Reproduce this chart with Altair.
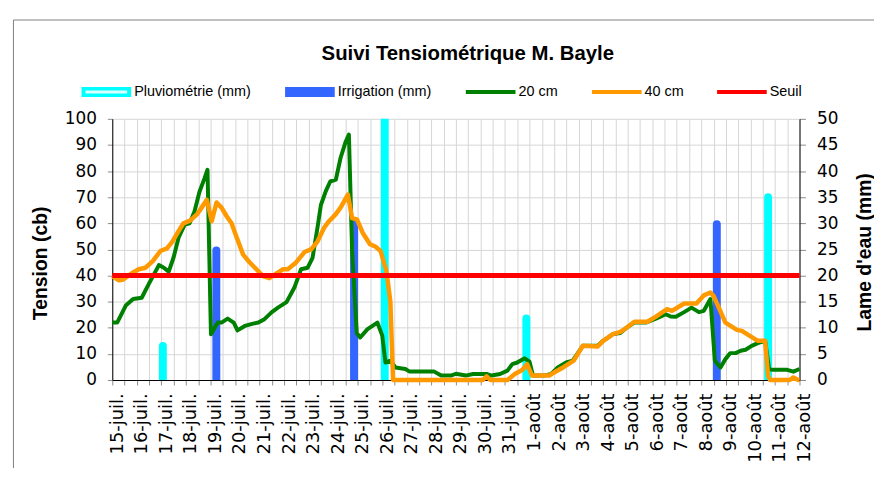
import json
import altair as alt
import pandas as pd

# ---------------- data ----------------
jours_labels = ["15-juil.", "16-juil.", "17-juil.", "18-juil.", "19-juil.", "20-juil.",
                "21-juil.", "22-juil.", "23-juil.", "24-juil.", "25-juil.", "26-juil.",
                "27-juil.", "28-juil.", "29-juil.", "30-juil.", "31-juil.",
                "1-août", "2-août", "3-août", "4-août", "5-août", "6-août", "7-août",
                "8-août", "9-août", "10-août", "11-août", "12-août"]

# 20 cm (day offset from 15-juil., tension cb)
t20_jour = [0.0, 0.2, 0.55, 0.85, 1.2, 1.5, 1.9, 2.1, 2.3, 2.5, 2.7, 2.95, 3.15, 3.35, 3.55,
            3.75, 3.88, 4.02, 4.3, 4.45, 4.7, 4.95, 5.1, 5.4, 5.7, 5.95, 6.2, 6.5, 6.75, 7.1,
            7.42, 7.69, 7.96, 8.16, 8.36, 8.5, 8.7, 8.88, 9.11, 9.3, 9.5, 9.64, 9.77, 9.96, 10.1,
            10.4, 10.8, 11.0, 11.13, 11.33, 11.54, 11.94, 12.1, 13.1, 13.4, 13.8, 14.0, 14.4, 14.7, 15.25,
            15.45, 15.8, 16.1, 16.3, 16.5, 16.8, 17.0, 17.14, 17.6, 17.88, 18.15, 18.49, 18.76, 19.17, 19.77,
            20.0, 20.4, 20.7, 20.95, 21.27, 21.74, 22.15, 22.55, 22.75, 22.96, 23.3, 23.6, 23.9, 24.1, 24.37,
            24.55, 24.78, 24.98, 25.18, 25.4, 25.6, 25.8, 26.05, 26.3, 26.6, 26.76, 26.9, 27.5, 27.75, 28.0]
t20_cb = [22, 22, 28.5, 31, 31.5, 37, 44, 43, 41.5, 47, 54.5, 59.5, 60, 64.5, 72,
          77, 80.5, 17.5, 22, 22, 23.5, 22, 19, 20.7, 21.5, 22, 23.3, 26, 27.7, 29.8,
          35.4, 42.4, 43, 46.8, 58.3, 67, 72.3, 76, 76.7, 85, 91, 94, 50, 18, 16.3,
          19.5, 22, 17, 6.7, 7.4, 4.8, 4.2, 3.3, 3.3, 1.7, 1.7, 2.4, 1.7, 2.3, 2.3,
          1.7, 2.3, 3.6, 6.1, 6.7, 8.3, 7, 1.7, 1.7, 2.3, 4.8, 6.7, 7.4, 13.1, 13.1,
          15, 17.6, 18, 20, 22, 22, 23.5, 25.2, 24.3, 24.2, 26, 27.7, 26, 26.5, 31,
          7.4, 4.8, 8, 10.3, 10.3, 11.2, 11.6, 13.1, 14.1, 15, 4.2, 3.9, 3.9, 3.2, 4.2]

# 40 cm
t40_jour = [0.0, 0.27, 0.45, 0.81, 1.08, 1.35, 1.65, 1.96, 2.23, 2.45, 2.7, 2.9, 3.17, 3.45, 3.64,
            3.85, 4.05, 4.25, 4.45, 4.66, 4.86, 5.05, 5.33, 5.6, 5.87, 6.14, 6.4, 6.68, 6.95, 7.15,
            7.49, 7.83, 8.1, 8.36, 8.63, 8.83, 9.1, 9.3, 9.6, 9.77, 9.97, 10.2, 10.5, 10.73, 10.93,
            11.17, 11.33, 11.44, 15.1, 15.25, 15.4, 16.1, 16.4, 16.7, 16.9, 17.1, 17.8, 18.0, 18.4, 18.8,
            19.17, 19.77, 20.0, 20.4, 20.7, 20.95, 21.27, 21.8, 22.15, 22.6, 22.8, 23.3, 23.8, 24.1, 24.37,
            24.5, 24.98, 25.45, 25.65, 26.3, 26.6, 26.72, 26.8, 27.6, 27.75, 27.95, 28.0]
t40_cb = [39.8, 38.2, 38.5, 41, 42.4, 43, 45.5, 49.4, 50.4, 53, 57, 60, 61, 63.4, 66,
          69, 60.8, 68, 66, 62.7, 60, 55, 48, 45, 42.4, 39.8, 39, 40.7, 42.4, 42.4,
          45, 49, 50, 53, 58.3, 60.8, 63.4, 66, 71, 62, 61.5, 56.4, 52, 51, 49.4,
          41.7, 30, 0, 0, 1.4, 0, 0, 2.3, 3.8, 6.1, 1.7, 1.7, 2.9, 5, 7.4,
          13.1, 12.8, 15, 17.6, 18.4, 20, 22.3, 22.3, 24.3, 27.1, 26.5, 29.3, 29.3, 32.4, 33.5,
          32.2, 22, 19.2, 18.8, 15, 15, 1.5, 0, 0, 1, 0, 0]

seuil_jour = [0, 28]
seuil_cb = [40, 40]

pluie_jour = [2.06, 11.1, 16.87, 26.72]
pluie_mm = [6.5, 60, 11.8, 35]
irrigation_jour = [4.24, 9.85, 24.63]
irrigation_mm = [24.8, 30, 29.8]

legende_labels = ["Pluviométrie (mm)", "Irrigation (mm)", "20 cm", "40 cm", "Seuil"]
titre = "Suivi Tensiométrique M. Bayle"

# ---------------- styles ----------------
CYAN, BLUE, GREEN, ORANGE, RED = "#00ffff", "#3366ff", "#008000", "#ff9900", "#ff0000"
W, H = 692, 263
GRID = "#d6d6d6"
TICK = "#8c8c8c"

label_expr = json.dumps(jours_labels, ensure_ascii=False) + "[datum.value] || ''"

x_axis = alt.Axis(values=[i / 2 for i in range(57)], labelExpr=label_expr, labelAngle=270,
                  labelAlign="right", labelBaseline="middle", labelOffset=5, labelPadding=8,
                  tickSize=5, tickColor=TICK, domainColor="black", grid=True, gridColor=GRID,
                  title=None, labelFont="DejaVu Sans", labelFontSize=18, labelColor="black",
                  labelOverlap=False, labelFlush=False, labelBound=False)
x_scale = alt.Scale(domain=[0, 28], nice=False, zero=False)

y_left_axis = alt.Axis(orient="left", values=list(range(0, 101, 10)), tickSize=5, labelPadding=11,
                       grid=True, gridColor=GRID, domainColor="black", tickColor=TICK,
                       labelFont="DejaVu Sans", labelFontSize=17, labelColor="black",
                       title="Tension (cb)", titleFont="Liberation Sans", titleFontSize=19.5,
                       titleFontWeight="bold", titleAngle=270, titleX=-72, titleY=145,
                       titleAlign="center", titleBaseline="middle", titleColor="black")
y_right_axis = alt.Axis(orient="right", values=list(range(0, 51, 5)), tickSize=6, labelPadding=11,
                        grid=False, domainColor="black", tickColor=TICK,
                        labelFont="DejaVu Sans", labelFontSize=17, labelColor="black",
                        title="Lame d'eau (mm)", titleFont="Liberation Sans", titleFontSize=19.5,
                        titleFontWeight="bold", titleAngle=270, titleX=65, titleY=134,
                        titleAlign="center", titleBaseline="middle", titleColor="black")

y_left_scale = alt.Scale(domain=[0, 100], nice=False, zero=True)
y_right_scale = alt.Scale(domain=[0, 50], nice=False, zero=True)

# ---------------- data layers ----------------
df_pluie = pd.DataFrame({"jour": pluie_jour, "mm": pluie_mm})
df_irr = pd.DataFrame({"jour": irrigation_jour, "mm": irrigation_mm})

def bar_layer(df, color):
    return alt.Chart(df).mark_rule(color=color, strokeWidth=8, strokeCap="round", clip=True).encode(
        x=alt.X("jour:Q", scale=x_scale, axis=x_axis),
        y=alt.Y("mm:Q", scale=y_right_scale, axis=y_right_axis),
        y2=alt.datum(0),
    )

bars = alt.layer(bar_layer(df_pluie, CYAN), bar_layer(df_irr, BLUE))

def line_layer(jours, vals, color, width):
    df = pd.DataFrame({"jour": jours, "cb": vals})
    return alt.Chart(df).mark_line(color=color, strokeWidth=width, strokeJoin="round").encode(
        x=alt.X("jour:Q", scale=x_scale, axis=x_axis),
        y=alt.Y("cb:Q", scale=y_left_scale, axis=y_left_axis),
        order="jour:Q",
    )

lines = alt.layer(
    line_layer(t20_jour, t20_cb, GREEN, 4),
    line_layer(t40_jour, t40_cb, ORANGE, 4.5),
    line_layer(seuil_jour, seuil_cb, RED, 5),
)

# ---------------- decorations (legend, title, frame) ----------------
one = pd.DataFrame({"a": [0]})

def hrule(x1, x2, y, color, width):
    return alt.Chart(one).mark_rule(color=color, strokeWidth=width, strokeCap="butt").encode(
        x=alt.value(x1), x2=alt.value(x2), y=alt.value(y))

def label(x, y, txt, size, weight="normal", align="left"):
    return alt.Chart(one).mark_text(align=align, baseline="middle", font="Liberation Sans",
                                    fontSize=size, fontWeight=weight, color="black").encode(
        x=alt.value(x), y=alt.value(y), text=alt.value(txt))

LEG_Y = -27
leg_x = [-31, 174, 356, 483, 609]
leg_colors = [CYAN, BLUE, GREEN, ORANGE, RED]
leg_widths = [10, 10, 4, 4, 4]
decor = []
for i, (lx, col, lw) in enumerate(zip(leg_x, leg_colors, leg_widths)):
    decor.append(hrule(lx, lx + 50, LEG_Y, col, lw))
    if i == 0:
        decor.append(hrule(lx + 4, lx + 46, LEG_Y, "#dcffff", 3))
    decor.append(label(lx + 53, LEG_Y, legende_labels[i], 14.5))

decor.append(alt.Chart(one).mark_text(align="center", baseline="alphabetic", font="Liberation Sans",
                                      fontSize=20.5, fontWeight="bold", color="black").encode(
    x=alt.value(358), y=alt.value(-59.5), text=alt.value(titre)))

decor.append(alt.Chart(one).mark_rule(color="#808080", strokeWidth=1).encode(
    x=alt.value(-99.5), y=alt.value(-99.5), y2=alt.value(360)))
decor.append(alt.Chart(one).mark_rule(color="#808080", strokeWidth=1).encode(
    x=alt.value(-99.5), x2=alt.value(775), y=alt.value(-99.5)))

chart = alt.layer(bars, lines, *decor).resolve_scale(y="independent").properties(
    width=W, height=H,
    autosize=alt.AutoSizeParams(type="none"),
    padding={"left": 105, "top": 110, "right": 75, "bottom": 87},
).configure_view(stroke=None)

chart.save("out.html", embed_options={"renderer": "svg", "actions": False})
